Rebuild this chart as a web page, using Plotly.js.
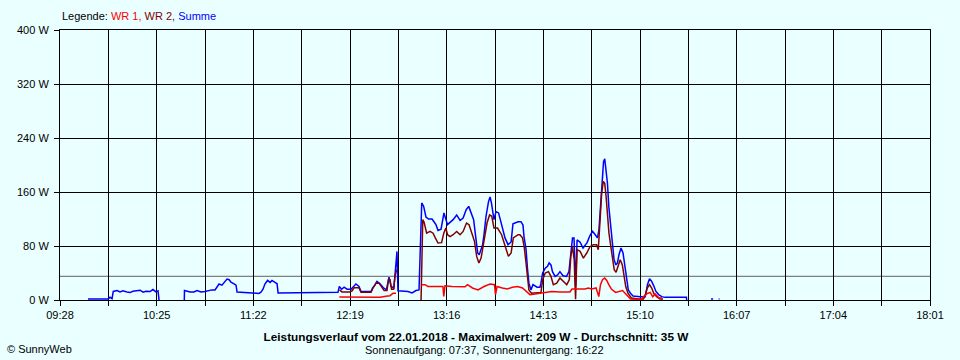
<!DOCTYPE html>
<html>
<head>
<meta charset="utf-8">
<script src="https://cdn.plot.ly/plotly-3.0.1.min.js"></script>
<style>
  html, body { margin: 0; padding: 0; background: #eaffff; }
  #chart { width: 960px; height: 360px; }
</style>
</head>
<body>
<div id="chart"></div>
<script>
// ---------- data (time = minutes since midnight, value = W) ----------
const xTickLabels = ["09:28","10:25","11:22","12:19","13:16","14:13","15:10","16:07","17:04","18:01"];
const yTickValues = [0, 80, 160, 240, 320, 400];
const seriesNames = ["WR 1", "WR 2", "Summe"];
const avgWatt = 35;
const titleText = "Leistungsverlauf vom 22.01.2018 - Maximalwert: 209 W - Durchschnitt: 35 W";
const subTitleText = "Sonnenaufgang: 07:37, Sonnenuntergang: 16:22";
const copyrightText = "© SunnyWeb";

const summeMin = [
  584.5, 590.4, 596.3, 597.5, 598.7, 599.4, 601.6, 603.4, 605.1, 607.5, 609.3, 611.0, 613.4, 615.2, 617.0, 618.7, 621.1, 622.8, 624.6, 625.8, 626.4,
  634.0,
  641.3, 641.4, 644.7, 647.0, 648.8, 651.1, 653.5, 655.3, 657.6, 659.4, 660.6, 661.8, 663.5, 665.3, 666.5, 667.7, 668.8, 670.6, 671.8, 672.4,
  677.1, 683.0, 685.3, 686.5, 687.7, 688.9, 690.4, 691.9, 693.0, 694.8, 696.0, 696.6, 703.6, 709.5, 715.4, 721.3, 727.2, 731.9,
  732.7, 734.1, 735.5, 737.3, 739.6, 741.1, 742.5, 744.3, 745.5, 748.4, 751.4, 752.3, 753.7, 754.9, 756.7, 758.7, 760.5, 762.0, 763.2, 764.9,
  765.8, 766.7, 767.3, 770.3, 773.2, 775.6, 777.9, 779.7,
  781.3, 782.4, 783.8, 785.3, 787.4, 788.5, 789.7, 790.9, 792.7, 794.4, 795.3, 796.5, 798.0, 799.8, 801.9, 803.9, 805.7, 807.5, 809.0, 810.5,
  811.9, 813.1, 814.3, 815.2, 816.3, 817.2, 818.0, 819.2, 820.7, 821.6, 822.4, 823.9, 825.1, 826.6, 828.4, 830.4, 832.2, 834.0, 835.1, 838.1,
  839.8, 841.0, 841.6, 842.8, 843.7, 844.5, 845.7, 846.9, 849.3, 851.0, 851.6, 852.6, 854.1, 855.5, 856.4, 857.5, 858.4, 859.9, 861.4, 862.8,
  864.6, 866.7, 868.1, 869.3, 870.2, 871.1, 872.0, 872.9, 874.7, 876.4, 878.8, 880.5, 882.0, 883.5, 884.9, 885.8, 887.0, 887.7, 888.5, 889.2,
  890.0, 890.8, 891.6, 892.3, 893.1, 893.9, 894.7, 895.8, 896.7, 897.6, 898.8, 900.0, 901.1, 902.1, 903.1, 904.4, 905.9, 910.0, 913.0, 913.5,
  914.4, 915.6, 916.9, 918.1, 919.4, 921.0, 922.8, 924.7, 930.6, 937.4, 937.5,
  945.0,
  951.9, 953.1,
  955.0,
  956.4, 956.9
];
const summeW = [
  1.5, 1.5, 1.5, 4, 2, 12.7, 14, 12, 13.5, 12, 11, 13, 13.5, 14.5, 11.5, 13, 12.5, 15.5, 12, 13.5, 0,
  null,
  0, 14, 11.8, 11.8, 14, 11.8, 12.5, 14, 15, 15, 20, 23.7, 22, 26.6, 31, 30, 26.6, 24, 22, 11.8,
  11, 10.8, 9.8, 11.5, 16, 24, 29, 26, 29, 26, 24, 10.5, 10.5, 11, 10.5, 11, 11.3, 11.3,
  20, 16, 19, 16, 16, 20, 23.7, 20, 12.7, 12.7, 12.7, 17.8, 22, 27.6, 24, 18, 15.5, 34, 20, 18,
  51, 72, 13.8, 13, 12.5, 10.4, 14, 15,
  143.7, 139, 123, 120, 120, 116, 111.6, 103, 105, 129, 122, 111.6, 115, 119, 126, 118, 121.5, 133.8, 138.7, 129,
  119, 94, 69.6, 67, 74.5, 82, 96.7, 124, 146, 152.6, 143.7, 119, 131, 129, 111.6, 92, 82, 86, 113, 116,
  116, 111, 94, 75, 45, 25, 15, 22.7, 19, 19, 25, 40, 47, 50, 55, 52, 42, 35, 37, 42,
  36, 35, 42, 74.5, 92, 92, 20, 89, 85.6, 77, 85, 95.5, 101.7, 97, 92, 104, 148.6, 178, 205, 209,
  193, 173, 138.7, 119, 94, 74.5, 59.7, 52, 55, 67, 77, 69.6, 50, 30, 15, 10, 6, 5, 5, 10,
  22.7, 31.6, 27.6, 21, 12.7, 8, 5, 3.9, 3.9, 3.9, 0,
  null,
  1.5, 1.5,
  null,
  1.5, 1.5
];

const wr2Min = [
  732.8, 734.3, 736.6, 739.0, 740.2, 741.4, 744.3, 745.5, 748.4, 751.4, 752.6, 754.3, 756.1, 757.3, 759.1, 760.8, 761.7, 762.6, 763.5, 764.7,
  765.6, 766.6,
  773.0,
  780.9, 781.3, 781.9, 782.7, 784.2, 786.2, 788.0, 789.3, 790.9, 793.0, 794.3, 795.5, 796.5, 798.0, 799.8, 801.9, 803.9, 805.7, 807.7, 809.2,
  810.6, 812.4, 813.7, 815.0, 816.3, 817.2, 818.4, 819.8, 821.3, 822.6, 823.9, 826.0, 828.4, 830.4, 832.4, 834.0, 835.3, 838.1, 839.2, 840.7,
  841.7, 842.8, 843.7, 844.5, 846.0, 848.7, 851.6, 852.6, 854.1, 856.0, 857.5, 858.9, 860.9, 862.8, 864.8, 866.8, 868.3, 869.2, 870.2, 871.2,
  872.0, 872.9, 874.7, 876.6, 878.6, 880.5, 882.5, 884.4, 885.4, 886.4, 887.4, 888.4, 889.2, 890.0, 890.8, 891.7, 892.8, 893.8, 894.8, 895.9,
  897.1, 898.3, 899.6, 900.6, 901.6, 902.9, 904.9, 908.8, 912.0, 912.8, 914.3, 915.6, 916.9, 918.1, 919.8, 921.8, 923.6
];
const wr2W = [
  15, 12, 12, 12, 13.5, 18, 18, 11.3, 11.3, 11.3, 17.8, 25, 25, 21, 14, 14, 30, 30, 16, 16,
  37, 45,
  null,
  0, 70, 119, 115, 99, 101.6, 99, 92, 84.4, 85, 99, 106.6, 96.7, 94, 96.7, 101.6, 96.7, 101.6, 114, 111.6,
  101.6, 86.9, 64.6, 54.8, 62, 77, 96.7, 114, 126, 124, 106.6, 106.6, 96.7, 79.4, 64.6, 69.6, 92, 96.7, 96.7, 92,
  79, 55, 30, 15, 10, 11, 11, 30, 40, 42, 35, 22.7, 25, 32.6, 27.6, 22.7, 30, 64.6, 79, 59.7,
  1, 74.5, 72, 62, 69.6, 79, 82, 82, 74.5, 109, 158.5, 175.7, 173, 153.5, 129, 99, 79, 59.7, 45, 41,
  50, 59.7, 52, 35, 20, 10, 3, 1.5, 1.5, 5, 17.8, 22.7, 17.8, 10, 5, 1.5, 1.5
];

const wr1Min = [
  732.7, 739.0, 744.9, 750.8, 756.7, 760.2, 762.6, 764.4, 766.1,
  773.0,
  781.2, 783.2, 785.0, 789.1, 793.8, 794.3, 795.0, 799.1, 803.9, 806.8, 808.3, 811.2, 814.5, 818.0, 821.6, 824.2, 824.8, 825.7, 828.8, 831.8,
  834.8, 837.8, 840.7, 843.2, 845.1, 848.1, 851.0, 855.0, 857.9, 862.8, 868.7, 869.9, 877.6, 879.5, 881.5, 884.1, 885.7, 886.7, 887.9, 889.2,
  890.4, 891.6, 893.1, 895.6, 898.2, 899.7, 901.2, 902.9, 904.4, 911.0, 912.0, 914.1, 916.0, 917.5, 918.9, 921.2, 923.0
];
const wr1W = [
  4.4, 4.4, 4, 3.5, 4, 5.4, 6.4, 10, 10,
  null,
  22.7, 22.7, 20, 19.5, 20, 5.4, 21, 20, 20, 19.5, 22.7, 17.8, 15, 20, 23.7, 22.7, 7.9, 20, 17.8, 16.3,
  19, 20, 17.8, 12.7, 7.9, 8.9, 10, 11.3, 12.7, 12, 12, 16.3, 16.3, 17.8, 16.3, 17.8, 5, 22.7, 30, 32.6,
  29, 22.7, 16.3, 11.3, 12.7, 14, 10, 6, 1.5, 1, 5, 9.3, 11.3, 5, 9, 3, 3
];

// ---------- chart ----------
const toMin = s => Number(s.slice(0, 2)) * 60 + Number(s.slice(3, 5));
const majorVals = xTickLabels.map(toMin);
const minorVals = majorVals.slice(0, -1).map((v, i) => (v + majorVals[i + 1]) / 2);
const xRange = [majorVals[0], majorVals[majorVals.length - 1]];

const FONT = "Liberation Sans, Arial, sans-serif";
const colors = ["#ff0000", "#800000", "#0000ff"];

const traces = [
  { x: summeMin, y: summeW, name: seriesNames[2], color: colors[2] },
  { x: wr2Min, y: wr2W, name: seriesNames[1], color: colors[1] },
  { x: wr1Min, y: wr1W, name: seriesNames[0], color: colors[0] }
].map(s => ({
  type: "scatter", mode: "lines", x: s.x, y: s.y, name: s.name,
  connectgaps: false,
  line: { color: s.color, width: 1.5, shape: "linear" },
  hoverinfo: "skip"
}));

const legendText = "Legende: " + seriesNames.map((n, i) =>
  '<span style="color:' + colors[i] + '">' + n + (i < seriesNames.length - 1 ? "," : "") + "</span>").join(" ");

const layout = {
  width: 960, height: 360,
  margin: { l: 60, r: 30, t: 30, b: 60, pad: 0 },
  paper_bgcolor: "#eaffff",
  plot_bgcolor: "#eaffff",
  showlegend: false,
  font: { family: FONT, size: 11, color: "#000" },
  title: {
    text: "<b>" + titleText + "</b>",
    font: { family: FONT, size: 11.8, color: "#000" },
    x: 476 / 960, xanchor: "center", xref: "container",
    y: 1 - 337 / 360, yanchor: "middle", yref: "container"
  },
  xaxis: {
    type: "linear",
    range: xRange,
    tickmode: "array", tickvals: majorVals, ticktext: xTickLabels,
    ticks: "outside", ticklen: 5, tickcolor: "#000", tickwidth: 1,
    showgrid: true, gridcolor: "#000", gridwidth: 1,
    showline: true, linecolor: "#000", linewidth: 1, mirror: true,
    zeroline: false,
    tickfont: { family: FONT, size: 11, color: "#000" },
    minor: {
      tickmode: "array", tickvals: minorVals,
      ticks: "outside", ticklen: 5, tickcolor: "#000", tickwidth: 1,
      showgrid: true, gridcolor: "#000", gridwidth: 1
    },
    fixedrange: true
  },
  yaxis: {
    range: [yTickValues[0], yTickValues[yTickValues.length - 1]],
    tickmode: "array", tickvals: yTickValues,
    ticktext: yTickValues.map(v => v + " W"),
    ticks: "outside", ticklen: 5, tickcolor: "#000", tickwidth: 1,
    showgrid: true, gridcolor: "#000", gridwidth: 1,
    showline: true, linecolor: "#000", linewidth: 1, mirror: true,
    zeroline: false,
    tickfont: { family: FONT, size: 11, color: "#000" },
    ticklabelstandoff: 3,
    fixedrange: true
  },
  shapes: [{
    type: "line", xref: "paper", x0: 0, x1: 1, yref: "y", y0: avgWatt, y1: avgWatt,
    line: { color: "#808080", width: 1.2 }, layer: "between"
  }],
  annotations: [
    {
      text: legendText, showarrow: false,
      xref: "paper", x: 0, xanchor: "left",
      yref: "paper", y: (300 - 16.5) / 270, yanchor: "middle",
      font: { family: FONT, size: 11, color: "#000" }
    },
    {
      text: subTitleText, showarrow: false,
      xref: "paper", x: (484 - 60) / 870, xanchor: "center",
      yref: "paper", y: (300 - 349.5) / 270, yanchor: "middle",
      font: { family: FONT, size: 11, color: "#000" }
    },
    {
      text: copyrightText, showarrow: false,
      xref: "paper", x: (5 - 60) / 870, xanchor: "left",
      yref: "paper", y: (300 - 349) / 270, yanchor: "middle",
      font: { family: FONT, size: 11, color: "#000" }
    }
  ]
};

Plotly.newPlot("chart", traces, layout, { staticPlot: true, displayModeBar: false });
</script>
</body>
</html>
